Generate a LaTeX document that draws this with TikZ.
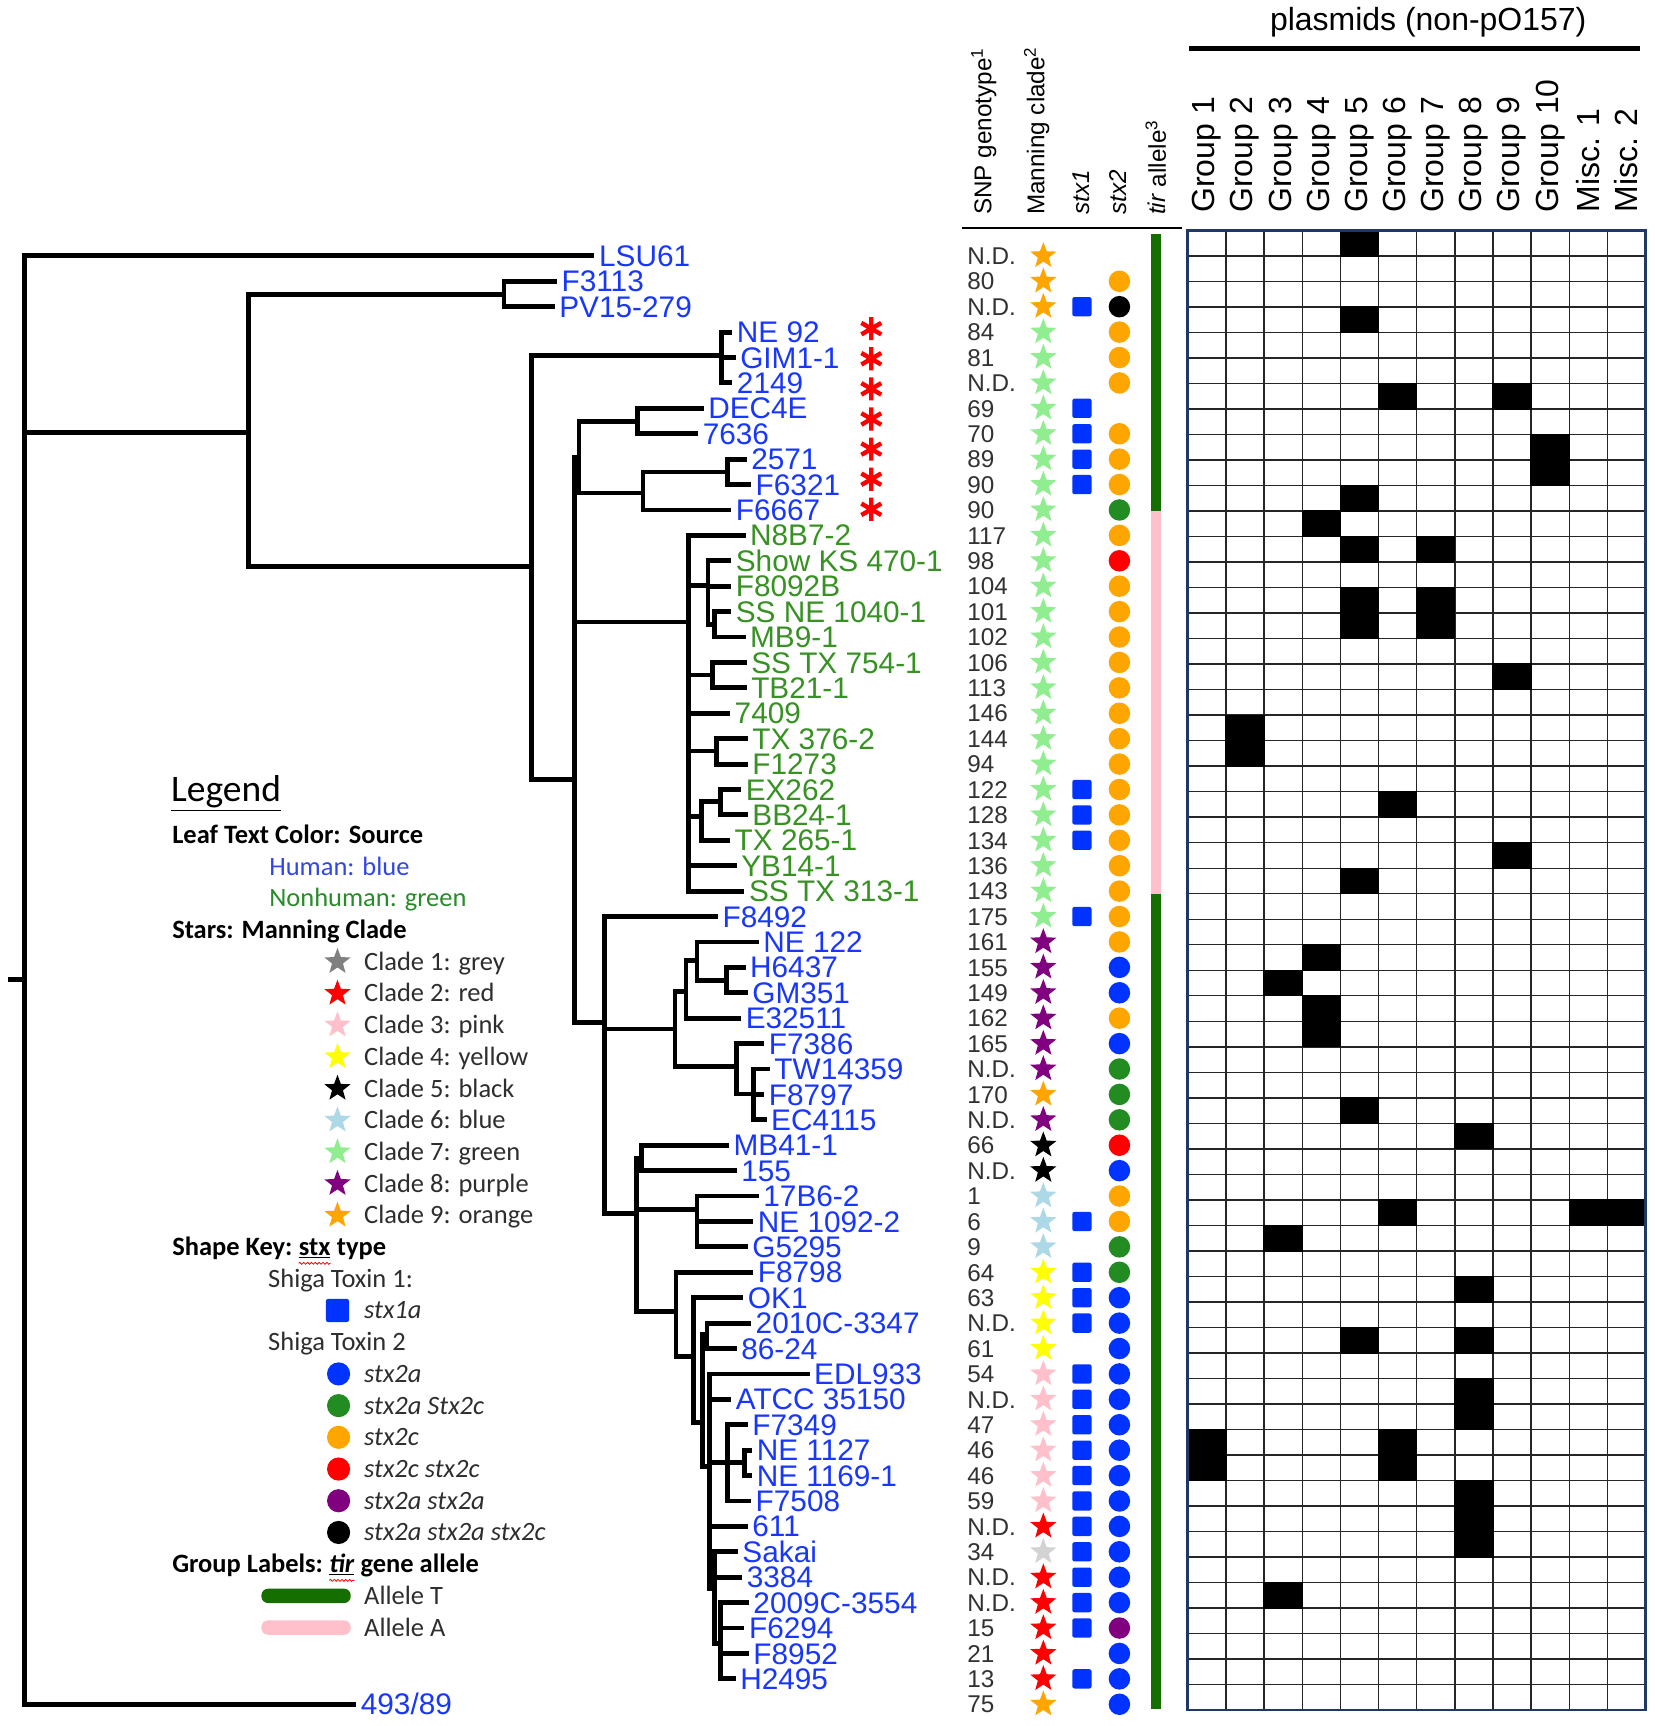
\documentclass[tikz,border=0pt]{standalone}
\usepackage{fontspec}
\setmainfont{Liberation Sans}
\newfontfamily\legfont{Carlito}
\usetikzlibrary{shapes.geometric,decorations.pathmorphing}
\definecolor{leafblue}{RGB}{25,55,250}
\definecolor{leafgreen}{RGB}{55,145,35}
\definecolor{sorange}{RGB}{255,165,0}
\definecolor{sgreen}{RGB}{144,238,144}
\definecolor{spurple}{RGB}{128,0,128}
\definecolor{sblue}{RGB}{173,216,230}
\definecolor{syellow}{RGB}{255,255,0}
\definecolor{spink}{RGB}{255,192,203}
\definecolor{sred}{RGB}{255,0,0}
\definecolor{sgrey}{RGB}{211,211,211}
\definecolor{lgrey}{RGB}{128,128,128}
\definecolor{cblue}{RGB}{0,51,255}
\definecolor{cgreen}{RGB}{34,139,34}
\definecolor{tirgreen}{RGB}{20,110,0}
\definecolor{gridnavy}{RGB}{31,56,100}
\definecolor{numgray}{RGB}{50,50,50}
\definecolor{humblue}{RGB}{50,70,230}
\definecolor{nonhgreen}{RGB}{40,140,40}
\newcommand\fLeaf{\fontsize{27}{30}\selectfont}
\newcommand\fNum{\fontsize{22}{24}\selectfont}
\newcommand\fHdr{\fontsize{22}{24}\selectfont}
\newcommand\fGrp{\fontsize{29}{31}\selectfont}
\newcommand\fLeg{\legfont\fontsize{24}{26}\selectfont}
\newcommand\fLegTitle{\legfont\fontsize{34}{36}\selectfont}
\begin{document}
\begin{tikzpicture}[x=1pt,y=-1pt,
  branch/.style={line width=4.4pt},
  leaf/.style={anchor=base west, inner sep=0pt, font=\fLeaf},
  num/.style={anchor=base west, inner sep=0pt, font=\fNum, text=numgray},
  clstar/.style={star, star points=5, star point ratio=2.4, fill=#1, draw=none, minimum size=25pt, inner sep=0pt},
  stxsq/.style={rectangle, rounded corners=2pt, fill=#1, draw=none, minimum size=17.5pt, inner sep=0pt},
  stxdot/.style={circle, fill=#1, draw=none, minimum size=19.5pt, inner sep=0pt},
  hdr/.style={rotate=90, anchor=west, inner sep=0pt, font=\fHdr},
  grp/.style={rotate=90, anchor=west, inner sep=0pt, font=\fGrp},
  lg/.style={anchor=base west, inner sep=0pt, font=\fLeg, text=black!82},
  lgb/.style={anchor=base west, inner sep=0pt, font=\fLeg\bfseries, text=black},
  gridline/.style={line width=1.3pt, black!85},
  squiggle/.style={red, line width=0.7pt, decorate, decoration={snake, amplitude=0.9pt, segment length=3.5pt}}
]
\fill[white] (0,0) rectangle (1500,1565);
\useasboundingbox (0,0) rectangle (1500,1565);

% ---------------- leaves ----------------
\foreach \k/\tip/\txt/\col in {
1/539/LSU61/leafblue, 2/505/F3113/leafblue, 3/503/PV15-279/leafblue,
4/664/NE 92/leafblue, 5/667/GIM1-1/leafblue, 6/664/2149/leafblue,
7/638/DEC4E/leafblue, 8/633/7636/leafblue, 9/677/2571/leafblue,
10/681/F6321/leafblue, 11/663/F6667/leafblue, 12/676/N8B7-2/leafgreen,
13/663/Show KS 470-1/leafgreen, 14/663/F8092B/leafgreen, 15/663/SS NE 1040-1/leafgreen,
16/676/MB9-1/leafgreen, 17/677/SS TX 754-1/leafgreen, 18/677/TB21-1/leafgreen,
19/662/7409/leafgreen, 20/678/TX 376-2/leafgreen, 21/678/F1273/leafgreen,
22/672/EX262/leafgreen, 23/678/BB24-1/leafgreen, 24/662/TX 265-1/leafgreen,
25/668/YB14-1/leafgreen, 26/675/SS TX 313-1/leafgreen, 27/651/F8492/leafblue,
28/688/NE 122/leafblue, 29/676/H6437/leafblue, 30/678/GM351/leafblue,
31/672/E32511/leafblue, 32/693/F7386/leafblue, 33/698/TW14359/leafblue,
34/693/F8797/leafblue, 35/695/EC4115/leafblue, 36/661/MB41-1/leafblue,
37/668/155/leafblue, 38/688/17B6-2/leafblue, 39/683/NE 1092-2/leafblue,
40/678/G5295/leafblue, 41/683/F8798/leafblue, 42/674/OK1/leafblue,
43/681/2010C-3347/leafblue, 44/668/86-24/leafblue, 45/734/EDL933/leafblue,
46/663/ATCC 35150/leafblue, 47/678/F7349/leafblue, 48/682/NE 1127/leafblue,
49/682/NE 1169-1/leafblue, 50/681/F7508/leafblue, 51/678/611/leafblue,
52/669/Sakai/leafblue, 53/673/3384/leafblue, 54/679/2009C-3554/leafblue,
55/675/F6294/leafblue, 56/679/F8952/leafblue, 57/667/H2495/leafblue,
58/323/{493/89}/leafblue}{
  \pgfmathsetmacro\y{232+(\k-1)*23.04}
  \coordinate (t\k) at (\tip,\y);
  \node[leaf,text=\col] (L\k) at (\tip+4,\y+9.6) {\txt};
}

% ---------------- internal nodes ----------------
\coordinate (root) at (22,888);
\coordinate (stub) at (7,888);
\coordinate (A) at (225,392);
\coordinate (B) at (457,267);
\coordinate (C) at (482,514);
\coordinate (E) at (654,322);
\coordinate (D) at (521,707);
\coordinate (D0) at (525,415);
\coordinate (F1) at (578,382);
\coordinate (F2) at (583,447);
\coordinate (F3) at (660,428);
\coordinate (G1) at (624,564);
\coordinate (g2) at (642,531);
\coordinate (g2b) at (648,566);
\coordinate (g3) at (646,612);
\coordinate (g5) at (650,681);
\coordinate (g7) at (636,740);
\coordinate (g6) at (653,727);
\coordinate (H) at (548,927);
\coordinate (I) at (612,933);
\coordinate (P) at (622,899);
\coordinate (K) at (632,871);
\coordinate (Nl) at (659,889);
\coordinate (N) at (668,967);
\coordinate (O) at (683,992);
\coordinate (J) at (577,1100);
\coordinate (Q) at (582,1050);
\coordinate (R) at (632,1097);
\coordinate (S) at (613,1189);
\coordinate (T) at (629,1230);
\coordinate (T2) at (637,1290);
\coordinate (U) at (641,1210);
\coordinate (V) at (643,1330);
\coordinate (W) at (660,1326);
\coordinate (X) at (675,1326);
\coordinate (V2) at (648,1440);
\coordinate (V3) at (653,1490);

\draw[branch] (stub) -- (root);
\foreach \p/\c in {root/t1, root/A, root/t58, A/B, A/C, B/t2, B/t3, C/E, C/D,
  E/t4, E/t5, E/t6, D/D0, D/G1, D/H, D0/F1, D0/F2, F1/t7, F1/t8, F2/F3, F2/t11,
  F3/t9, F3/t10, G1/t12, G1/g2, G1/g3, G1/t19, G1/g5, G1/g7, G1/t25, G1/t26,
  g2/t13, g2/t14, g2/g2b, g2b/t15, g2b/t16, g3/t17, g3/t18, g5/t20, g5/t21,
  g7/g6, g7/t24, g6/t22, g6/t23, H/t27, H/I, H/J, I/P, I/N, P/K, P/t31,
  K/t28, K/Nl, Nl/t29, Nl/t30, N/t32, N/O, O/t33, O/t34, O/t35, J/Q, J/R, J/S,
  Q/t36, Q/t37, R/t38, R/t39, R/t40, S/t41, S/T, T/t42, T/T2, T2/U, T2/V,
  U/t43, U/t44, V/t45, V/t46, V/W, V/t51, V/V2, W/t47, W/X, W/t50, X/t48, X/t49,
  V2/t52, V2/t53, V2/V3, V3/t54, V3/t55, V3/t56, V3/t57}
  \draw[branch] (\p) |- (\c);

% ---------------- red asterisks ----------------
\foreach \i in {0,...,6}{
  \coordinate (ast\i) at (790,298+\i*27.3);
  \draw[sred, line width=4pt, shift={(ast\i)}] (0,-10.5) -- (0,10.5) (-9,-5.2) -- (9,5.2) (-9,5.2) -- (9,-5.2);
}

% ---------------- table columns ----------------
\foreach \k/\n/\sc/\sq/\cc in {
1/N.D./sorange/none/none, 2/80/sorange/none/sorange, 3/N.D./sorange/cblue/black,
4/84/sgreen/none/sorange, 5/81/sgreen/none/sorange, 6/N.D./sgreen/none/sorange,
7/69/sgreen/cblue/none, 8/70/sgreen/cblue/sorange, 9/89/sgreen/cblue/sorange,
10/90/sgreen/cblue/sorange, 11/90/sgreen/none/cgreen, 12/117/sgreen/none/sorange,
13/98/sgreen/none/sred, 14/104/sgreen/none/sorange, 15/101/sgreen/none/sorange,
16/102/sgreen/none/sorange, 17/106/sgreen/none/sorange, 18/113/sgreen/none/sorange,
19/146/sgreen/none/sorange, 20/144/sgreen/none/sorange, 21/94/sgreen/none/sorange,
22/122/sgreen/cblue/sorange, 23/128/sgreen/cblue/sorange, 24/134/sgreen/cblue/sorange,
25/136/sgreen/none/sorange, 26/143/sgreen/none/sorange, 27/175/sgreen/cblue/sorange,
28/161/spurple/none/sorange, 29/155/spurple/none/cblue, 30/149/spurple/none/cblue,
31/162/spurple/none/sorange, 32/165/spurple/none/cblue, 33/N.D./spurple/none/cgreen,
34/170/sorange/none/cgreen, 35/N.D./spurple/none/cgreen, 36/66/black/none/sred,
37/N.D./black/none/cblue, 38/1/sblue/none/sorange, 39/6/sblue/cblue/sorange,
40/9/sblue/none/cgreen, 41/64/syellow/cblue/cgreen, 42/63/syellow/cblue/cblue,
43/N.D./syellow/cblue/cblue, 44/61/syellow/none/cblue, 45/54/spink/cblue/cblue,
46/N.D./spink/cblue/cblue, 47/47/spink/cblue/cblue, 48/46/spink/cblue/cblue,
49/46/spink/cblue/cblue, 50/59/spink/cblue/cblue, 51/N.D./sred/cblue/cblue,
52/34/sgrey/cblue/cblue, 53/N.D./sred/cblue/cblue, 54/N.D./sred/cblue/cblue,
55/15/sred/cblue/spurple, 56/21/sred/none/cblue, 57/13/sred/cblue/cblue,
58/75/sorange/none/cblue}{
  \pgfmathsetmacro\y{232+(\k-1)*23.04}
  \node[num] (n\k) at (877,\y+7.9) {\n};
  \node[clstar=\sc] (s\k) at (946,\y) {};
  \node[stxsq=\sq] (q\k) at (981,\y) {};
  \node[stxdot=\cc] (c\k) at (1015,\y) {};
}

% tir allele bar
\fill[tirgreen] (1043.5,212) rectangle (1052.5,463.4);
\fill[spink] (1043.5,463.4) rectangle (1052.5,810.4);
\fill[tirgreen] (1043.5,810.4) rectangle (1052.5,1550);

% ---------------- headers ----------------
\node[hdr] (hSNP) at (892,195) {SNP genotype\textsuperscript{1}};
\node[hdr] (hMan) at (940,195) {Manning clade\textsuperscript{2}};
\node[hdr] (hS1) at (980,195) {\itshape stx1};
\node[hdr] (hS2) at (1014,195) {\itshape stx2};
\node[hdr] (hTir) at (1048,195) {\textit{tir} allele\textsuperscript{3}};
\draw[line width=1.8pt] (872,207) -- (1072,207);
\node[font=\fGrp, inner sep=0pt] (plas) at (1295,20) {plasmids (non-pO157)};
\draw[line width=4pt] (1078,44) -- (1487,44);
\foreach \j/\t in {1/Group 1, 2/Group 2, 3/Group 3, 4/Group 4, 5/Group 5, 6/Group 6,
  7/Group 7, 8/Group 8, 9/Group 9, 10/Group 10, 11/Misc. 1, 12/Misc. 2}{
  \pgfmathsetmacro\gx{1077+(\j-0.5)*34.5833}
  \node[grp] (gh\j) at (\gx,193) {\t};
}

% ---------------- plasmid grid ----------------
\def\GL{1077}\def\GR{1492}\def\GT{209}\def\GB{1550.5}
\def\CW{34.5833}\def\RH{23.1293}
\foreach \j in {1,...,11} \draw[gridline] (\GL+\j*\CW,\GT) -- (\GL+\j*\CW,\GB);
\foreach \i in {1,...,57} \draw[gridline] (\GL,\GT+\i*\RH) -- (\GR,\GT+\i*\RH);
\foreach \r/\c in {1/5, 4/5, 7/6, 7/9, 9/10, 10/10, 11/5, 12/4, 13/5, 13/7, 15/5, 15/7,
  16/5, 16/7, 18/9, 20/2, 21/2, 23/6, 25/9, 26/5, 29/4, 30/3, 31/4, 32/4, 35/5, 36/8,
  39/6, 39/11, 39/12, 40/3, 42/8, 44/5, 44/8, 46/8, 47/8, 48/1, 48/6, 49/1, 49/6,
  50/8, 51/8, 52/8, 54/3}
  \fill[black] (\GL+\c*\CW-\CW-0.6,\GT+\r*\RH-\RH-0.6) rectangle +(\CW+1.2,\RH+1.2);
\draw[gridnavy, line width=2.6pt] (\GL,\GT) rectangle (\GR,\GB);

% ---------------- legend ----------------
\node[anchor=base west, inner sep=0pt, font=\fLegTitle, text=black] (legT) at (155,727) {\underline{Legend}};
\node[lgb] (lg1) at (156,764.7) {Leaf Text Color: Source};
\node[lg, text=humblue] (lg2) at (244,793.5) {Human: blue};
\node[lg, text=nonhgreen] (lg3) at (244,822.2) {Nonhuman: green};
\node[lgb] (lg4) at (156,851) {Stars: Manning Clade};
\foreach \i/\c/\t in {0/lgrey/Clade 1: grey, 1/sred/Clade 2: red, 2/spink/Clade 3: pink,
  3/syellow/Clade 4: yellow, 4/black/Clade 5: black, 5/sblue/Clade 6: blue,
  6/sgreen/Clade 7: green, 7/spurple/Clade 8: purple, 8/sorange/Clade 9: orange}{
  \pgfmathsetmacro\yc{872+\i*28.75}
  \node[clstar=\c] (ls\i) at (306,\yc) {};
  \node[lg] (lt\i) at (330,\yc+7.7) {\t};
}
\node[lgb] (sk1) at (156,1138.45) {Shape Key:};
\node[lgb] (sk2) at ([xshift=5.4pt]sk1.base east) {\underline{stx}};
\node[lgb] (sk3) at ([xshift=5.4pt]sk2.base east) {type};
\draw[squiggle] ([yshift=-7pt]sk2.base west) -- ([yshift=-7pt]sk2.base east);
\node[lg] (st1) at (243,1167.2) {Shiga Toxin 1:};
\node[stxsq=cblue, minimum size=21pt] (lsq) at (306,1188.25) {};
\node[lg, font=\fLeg\itshape] (lsqt) at (330,1195.95) {stx1a};
\node[lg] (st2) at (243,1224.7) {Shiga Toxin 2};
\foreach \i/\c/\t in {0/cblue/stx2a, 1/cgreen/stx2a Stx2c, 2/sorange/stx2c,
  3/sred/stx2c stx2c, 4/spurple/stx2a stx2a, 5/black/stx2a stx2a stx2c}{
  \pgfmathsetmacro\yc{1245.75+\i*28.75}
  \node[stxdot=\c, minimum size=21pt] (ld\i) at (307,\yc) {};
  \node[lg, font=\fLeg\itshape] (ldt\i) at (330,\yc+7.7) {\t};
}
\node[lgb] (gk1) at (156,1425.95) {Group Labels:};
\node[lgb] (gk2) at ([xshift=5.4pt]gk1.base east) {\underline{\itshape tir}};
\node[lgb] (gk3) at ([xshift=5.4pt]gk2.base east) {gene allele};
\draw[squiggle] ([yshift=-7pt]gk2.base west) -- ([yshift=-7pt]gk2.base east);
\node[fill=tirgreen, rounded corners=6pt, minimum width=81pt, minimum height=13pt, inner sep=0pt] (barT) at (277.5,1447) {};
\node[lg] (alT) at (330,1454.7) {Allele T};
\node[fill=spink, rounded corners=6pt, minimum width=81pt, minimum height=13pt, inner sep=0pt] (barA) at (277.5,1475.75) {};
\node[lg] (alA) at (330,1483.45) {Allele A};
\end{tikzpicture}
\end{document}
